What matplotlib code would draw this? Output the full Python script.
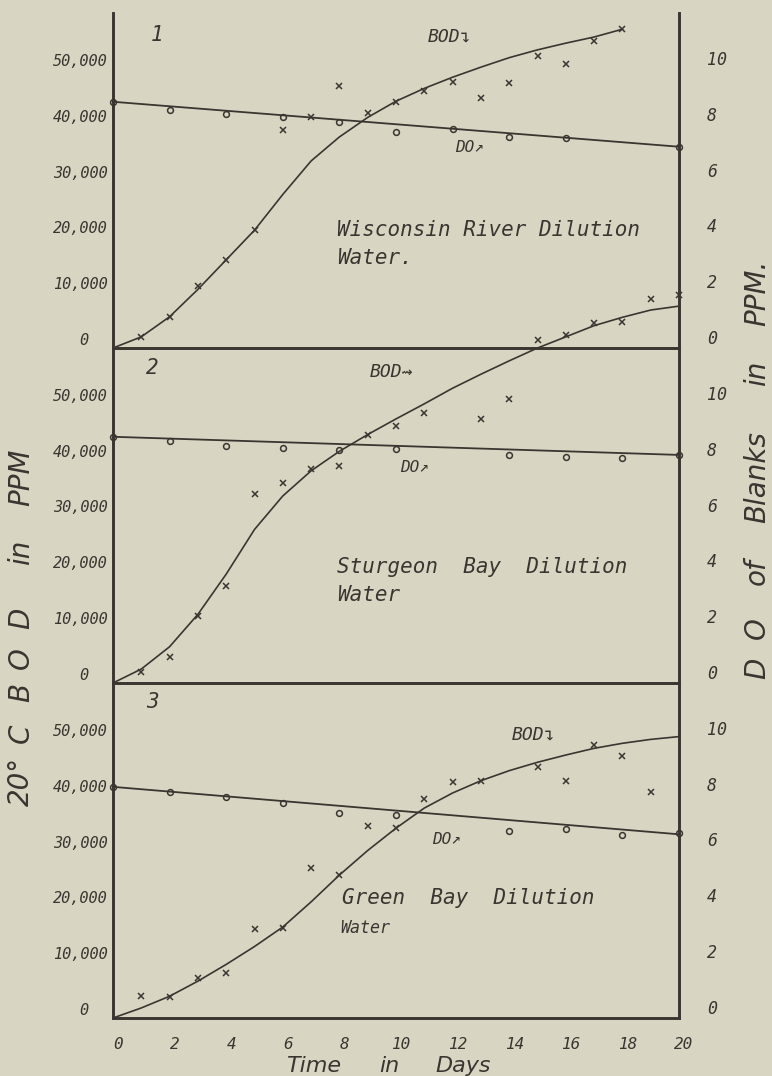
import matplotlib
matplotlib.use("Agg")
import matplotlib.pyplot as plt
from matplotlib.transforms import ScaledTranslation

BG = "#d8d6c3"
INK = "#3a3530"

# ---------------- data (BOD in thousands of ppm, DO in ppm) ----------------
p1_curve_days = list(range(0, 19))
p1_curve_bod = [0, 2.0, 5.6, 10.5, 15.8, 21.1, 27.5, 33.5, 37.8, 41.3, 44.2,
                46.5, 48.5, 50.3, 52.0, 53.4, 54.6, 55.7, 57.1]
p1_pts_days = [1, 2, 3, 4, 5, 6, 7, 8, 9, 10, 11, 12, 13, 14, 15, 16, 17, 18]
p1_pts_bod = [2.0, 5.6, 11.1, 15.8, 21.1, 39.0, 41.3, 46.9, 42.1, 44.1, 46.1,
              47.7, 44.8, 47.4, 52.3, 50.8, 55.0, 57.1]
p1_doline_days = [0, 20]
p1_doline = [8.82, 7.21]
p1_do_days = [0, 2, 4, 6, 8, 10, 12, 14, 16, 20]
p1_do = [8.82, 8.53, 8.38, 8.26, 8.11, 7.75, 7.83, 7.57, 7.51, 7.21]

p2_curve_days = list(range(0, 21))
p2_curve_bod = [0, 2.5, 6.5, 12.3, 19.5, 27.5, 33.5, 38.0, 41.5, 44.5, 47.3,
                50.0, 52.8, 55.3, 57.7, 60.0, 62.0, 64.0, 65.5, 66.8, 67.5]
p2_pts_days = [1, 2, 3, 4, 5, 6, 7, 8, 9, 10, 11, 13, 14, 15, 16, 17, 18, 19, 20]
p2_pts_bod = [2.0, 4.7, 12.0, 17.4, 33.9, 35.9, 38.4, 38.9, 44.4, 46.0, 48.4,
              47.2, 50.8, 61.4, 62.3, 64.5, 64.7, 68.8, 69.5]
p2_doline_days = [0, 20]
p2_doline = [8.82, 8.17]
p2_do_days = [0, 2, 4, 6, 8, 10, 14, 16, 18, 20]
p2_do = [8.82, 8.67, 8.49, 8.41, 8.35, 8.37, 8.17, 8.09, 8.05, 8.17]

p3_curve_days = list(range(0, 21))
p3_curve_bod = [0, 1.8, 3.9, 6.6, 9.6, 12.8, 16.3, 20.8, 25.6, 30.0, 34.0,
                37.6, 40.3, 42.5, 44.3, 45.8, 47.1, 48.3, 49.2, 49.9, 50.4]
p3_pts_days = [1, 2, 3, 4, 5, 6, 7, 8, 9, 10, 11, 12, 13, 15, 16, 17, 18, 19]
p3_pts_bod = [4.0, 3.8, 7.1, 8.1, 15.9, 16.1, 26.8, 25.6, 34.4, 34.0, 39.2,
              42.2, 42.5, 45.0, 42.4, 48.9, 46.9, 40.5]
p3_doline_days = [0, 20]
p3_doline = [8.28, 6.58]
p3_do_days = [0, 2, 4, 6, 8, 10, 14, 16, 18, 20]
p3_do = [8.28, 8.11, 7.93, 7.69, 7.36, 7.27, 6.71, 6.76, 6.56, 6.62]

bod_ticks = [0, 10000, 20000, 30000, 40000, 50000]
bod_ticklabels = ["0  ", "10,000", "20,000", "30,000", "40,000", "50,000"]
do_ticks = [0, 2, 4, 6, 8, 10]
do_ticklabels = ["0", "2", "4", "6", "8", "10"]
x_ticks = [0, 2, 4, 6, 8, 10, 12, 14, 16, 18, 20]

titles = ["Wisconsin River Dilution", "Sturgeon  Bay  Dilution",
          "Green  Bay  Dilution"]
subtitles = ["Water.", "Water", "Water"]
numbers = ["1", "2", "3"]
left_label_words = ["20\u00b0", "C", "B", "O", "D", "in", "PPM"]
right_label_words = ["D", "O", "of", "Blanks", "in", "PPM."]
xlabel_words = ["Time", "in", "Days"]

panels = [
    (p1_curve_days, p1_curve_bod, p1_pts_days, p1_pts_bod, p1_doline_days, p1_doline, p1_do_days, p1_do),
    (p2_curve_days, p2_curve_bod, p2_pts_days, p2_pts_bod, p2_doline_days, p2_doline, p2_do_days, p2_do),
    (p3_curve_days, p3_curve_bod, p3_pts_days, p3_pts_bod, p3_doline_days, p3_doline, p3_do_days, p3_do),
]

# ---------------- figure ----------------
W, H = 772, 1076
fig = plt.figure(figsize=(W / 100, H / 100), dpi=100, facecolor=BG)
plt.rcParams["font.family"] = ["DejaVu Sans Mono", "DejaVu Sans"]
FS = dict(color=INK, style="italic")
SANS = dict(color=INK, style="italic", family=["DejaVu Sans"])


def fx(x):
    return x / W


def fy(y):
    return 1 - y / H


x_left, x_right = 113, 679
bottoms = [348, 683, 1018]
ph = 335

for i, (cd, cb, pd, pb, dld, dl, dd, dv) in enumerate(panels):
    yb = bottoms[i]
    ax = fig.add_axes([fx(x_left), fy(yb), (x_right - x_left) / W, ph / H])
    ax.set_facecolor("none")
    ax2 = ax.twinx()
    ax2.set_facecolor("none")
    ax.set_xlim(0, 20)
    ax.set_ylim(0, 60000)
    ax2.set_ylim(0, 12)
    clip = (i != 1)
    ax.plot(cd, [v * 1000 for v in cb], color=INK, lw=1.2, clip_on=clip, zorder=3)
    ax.plot(pd, [v * 1000 for v in pb], linestyle="none", marker="x", ms=3.8,
            mew=1.1, color=INK, clip_on=clip, zorder=4)
    ax2.plot(dld, dl, color=INK, lw=1.3, clip_on=False, zorder=3)
    ax2.plot(dd, dv, linestyle="none", marker="o", ms=4.2, mfc="none", mew=1.1,
             color=INK, clip_on=False, zorder=4)
    for a in (ax, ax2):
        a.spines["top"].set_visible(False)
        for s in ("left", "right", "bottom"):
            a.spines[s].set_color(INK)
            a.spines[s].set_linewidth(1.9)
    ax.set_yticks(bod_ticks)
    ax.set_yticklabels(bod_ticklabels, fontsize=11, **FS)
    ax.tick_params(axis="y", length=0, pad=4)
    for lab in ax.get_yticklabels():
        lab.set_va("bottom")
    ax2.set_yticks(do_ticks)
    ax2.set_yticklabels(do_ticklabels, fontsize=12, **FS)
    ax2.tick_params(axis="y", length=0, pad=20)
    for lab in ax2.get_yticklabels():
        lab.set_va("bottom")
    ax.set_xticks(x_ticks)
    if i == 2:
        ax.set_xticklabels([str(t) for t in x_ticks], fontsize=11.5, **FS)
        ax.tick_params(axis="x", length=0, pad=14)
        off = ScaledTranslation(5 / 100, 0, fig.dpi_scale_trans)
        for lab in ax.get_xticklabels():
            lab.set_transform(lab.get_transform() + off)
    else:
        ax.set_xticklabels([])
        ax.tick_params(axis="x", length=0)

# panel numbers
for (px, py), t in zip([(157, 35), (152, 368), (152, 702)], numbers):
    fig.text(fx(px), fy(py), t, fontsize=15, ha="center", va="center", **FS)

# panel titles
for t, (px, py) in zip(titles, [(337, 230), (337, 567), (342, 898)]):
    fig.text(fx(px), fy(py), t, fontsize=15, ha="left", va="center", **FS)
sub_pos = [(337, 258, 15), (337, 595, 15), (340, 928, 12)]
for t, (px, py, fs) in zip(subtitles, sub_pos):
    fig.text(fx(px), fy(py), t, fontsize=fs, ha="left", va="center", **FS)

# curve labels
fig.text(fx(428), fy(37), "BOD\u21b4", fontsize=13, ha="left", va="center", **FS)
fig.text(fx(455), fy(148), "DO\u2197", fontsize=11.5, ha="left", va="center", **FS)
fig.text(fx(370), fy(372), "BOD\u21dd", fontsize=13, ha="left", va="center", **FS)
fig.text(fx(400), fy(468), "DO\u2197", fontsize=11.5, ha="left", va="center", **FS)
fig.text(fx(512), fy(735), "BOD\u21b4", fontsize=13, ha="left", va="center", **FS)
fig.text(fx(432), fy(840), "DO\u2197", fontsize=11.5, ha="left", va="center", **FS)

# x label
for w, px in zip(xlabel_words, [314, 389, 463]):
    fig.text(fx(px), fy(1066), w, fontsize=16, ha="center", va="center", **SANS)

# left y label (reads bottom to top)
for w, py in zip(left_label_words, [781, 733, 692, 658, 618, 552, 477]):
    fig.text(fx(21), fy(py), w, fontsize=20, rotation=90, ha="center",
             va="center", **SANS)

# right y label (reads bottom to top)
for w, py in zip(right_label_words, [668, 628, 572, 477, 373, 293]):
    fig.text(fx(757), fy(py), w, fontsize=20, rotation=90, ha="center",
             va="center", **SANS)

fig.savefig("out.png", dpi=100, facecolor=BG)
